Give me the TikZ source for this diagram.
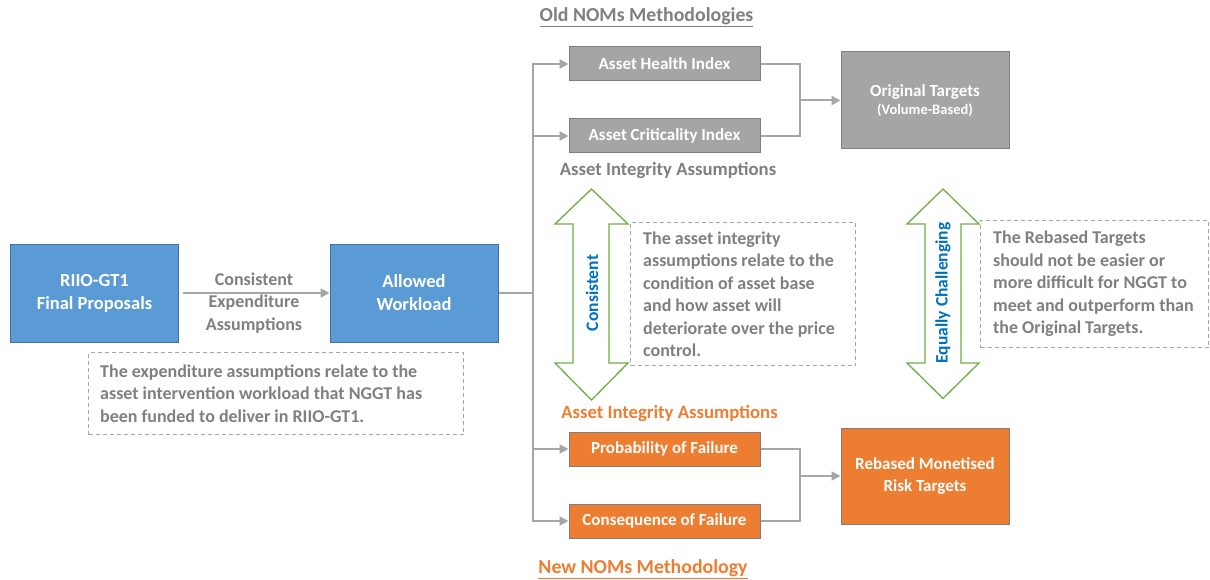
\documentclass[tikz,border=0pt]{standalone}
\usepackage{fontspec}
\setmainfont{Carlito}
\usetikzlibrary{arrows.meta,positioning}
\definecolor{boxblue}{HTML}{5B9BD5}
\definecolor{boxblueline}{HTML}{41719C}
\definecolor{boxgray}{HTML}{A5A5A5}
\definecolor{boxline}{HTML}{7F7F7F}
\definecolor{boxorange}{HTML}{ED7D31}
\definecolor{txtgray}{HTML}{7F7F7F}
\definecolor{wire}{HTML}{A6A6A6}
\definecolor{dashline}{HTML}{A6A6A6}
\definecolor{arrowgreen}{HTML}{70AD47}
\definecolor{txtblue}{HTML}{0070C0}
\tikzset{
  bigbox/.style={draw=boxblueline,fill=boxblue,line width=1pt,minimum width=168pt,minimum height=98pt,
    text=white,align=center,font=\bfseries\fontsize{18.5}{23}\selectfont},
  smallbox/.style={draw=boxline,line width=1pt,minimum width=191pt,minimum height=34pt,inner sep=0pt,
    text=white,align=center,font=\bfseries\fontsize{17}{20}\selectfont},
  targetbox/.style={draw=boxline,line width=1pt,minimum width=168pt,minimum height=97pt,inner sep=0pt,
    text=white,align=center,font=\bfseries\fontsize{17}{21.5}\selectfont},
  noteframe/.style={draw=dashline,line width=1pt,dash pattern=on 4pt off 3pt,anchor=north west,inner sep=0pt},
  notetext/.style={anchor=west,align=left,text=txtgray,inner sep=0pt,
    font=\bfseries\fontsize{18}{22.5}\selectfont},
  wireline/.style={draw=wire,line width=2pt},
  wirearrow/.style={wireline,-{Triangle[length=9pt,width=9pt]}},
  heading/.style={text=txtgray,font=\bfseries\fontsize{18.7}{22}\selectfont},
  title/.style={font=\bfseries\fontsize{19.8}{22}\selectfont},
  duoarrow/.style={draw=arrowgreen,line width=1.3pt,fill=white,line join=miter},
  sidelabel/.style={text=txtblue,rotate=90,font=\bfseries\fontsize{17.5}{20}\selectfont}
}
\begin{document}
\begin{tikzpicture}[x=1pt,y=-1pt]
\useasboundingbox (0,0) rectangle (1210,580);

% left part: proposals and allowed workload
\node[bigbox] (rp) at (94.5,293) {RIIO-GT1\\Final Proposals};
\node[bigbox] (aw) at (414,293) {Allowed\\Workload};
\draw[wirearrow] (rp.east) ++(4pt,0) coordinate (rpout) (rpout) -- (aw.west);
\node[text=txtgray,align=center,font=\bfseries\fontsize{18}{22.5}\selectfont] (cea) at (254,303)
  {Consistent\\Expenditure\\Assumptions};
\node[noteframe,minimum width=375pt,minimum height=82pt] (n1) at (88,352) {};
\node[notetext] (n1t) at ([xshift=12pt]n1.west) {The expenditure assumptions relate to the\\asset intervention workload that NGGT has\\been funded to deliver in RIIO-GT1.};

% old methodology
\node[heading,title] (old) at (646.5,17) {\underline{Old NOMs Methodologies}};
\node[smallbox,fill=boxgray] (ahi) at (664.5,64) {Asset Health Index};
\node[smallbox,fill=boxgray] (aci) at (664.5,136) {Asset Criticality Index};
\node[targetbox,fill=boxgray] (ot) at (925,100.5) {Original Targets\\[-3pt]{\fontsize{14.5}{17}\selectfont(Volume-Based)}};
\node[heading] (aia1) at (668,171) {Asset Integrity Assumptions};

% new methodology
\node[heading,text=boxorange] (aia2) at (669.5,414) {Asset Integrity Assumptions};
\node[smallbox,fill=boxorange] (pof) at (664.5,449) {Probability of Failure};
\node[smallbox,fill=boxorange] (cof) at (664.5,521) {Consequence of Failure};
\node[targetbox,fill=boxorange,minimum height=96pt] (rt) at (925,476) {Rebased Monetised\\Risk Targets};
\node[heading,title,text=boxorange] (new) at (643,569) {\underline{New NOMs Methodology}};

% branch from the allowed workload
\coordinate (split) at (533,293);
\draw[wireline] (aw.east) -- (split);
\draw[wirearrow] (split) |- (ahi.west);
\draw[wirearrow] (split) |- (aci.west);
\draw[wirearrow] (split) |- (pof.west);
\draw[wirearrow] (split) |- (cof.west);

% merging into the targets
\coordinate (j1) at (800,100.5);
\draw[wireline] (ahi.east) -| (j1);
\draw[wireline] (aci.east) -| (j1);
\draw[wirearrow] (j1) -- (ot.west);
\coordinate (j2) at (800,476);
\draw[wireline] (pof.east) -| (j2);
\draw[wireline] (cof.east) -| (j2);
\draw[wirearrow] (j2) -- (rt.west);

% green double arrows
\draw[duoarrow] (591.5,189) -- (628,224) -- (609,224) -- (609,363) -- (628,363) -- (591.5,400)
  -- (555,363) -- (573,363) -- (573,224) -- (555,224) -- cycle;
\node[sidelabel] (cons) at (592,293) {Consistent};
\draw[duoarrow] (943,189) -- (979,224) -- (961,224) -- (961,363) -- (979,363) -- (943,398.5)
  -- (907,363) -- (925,363) -- (925,224) -- (907,224) -- cycle;
\node[sidelabel] (eqc) at (943,293) {Equally Challenging};

% explanatory notes
\node[noteframe,minimum width=225pt,minimum height=143pt] (n2) at (630,222) {};
\node[notetext] (n2t) at ([xshift=13pt]n2.west) {The asset integrity\\assumptions relate to the\\condition of asset base\\and how asset will\\deteriorate over the price\\control.};
\node[noteframe,minimum width=228pt,minimum height=127pt] (n3) at (980,220) {};
\node[notetext] (n3t) at ([xshift=13pt]n3.west) {The Rebased Targets\\should not be easier or\\more difficult for NGGT to\\meet and outperform than\\the Original Targets.};
\end{tikzpicture}
\end{document}
